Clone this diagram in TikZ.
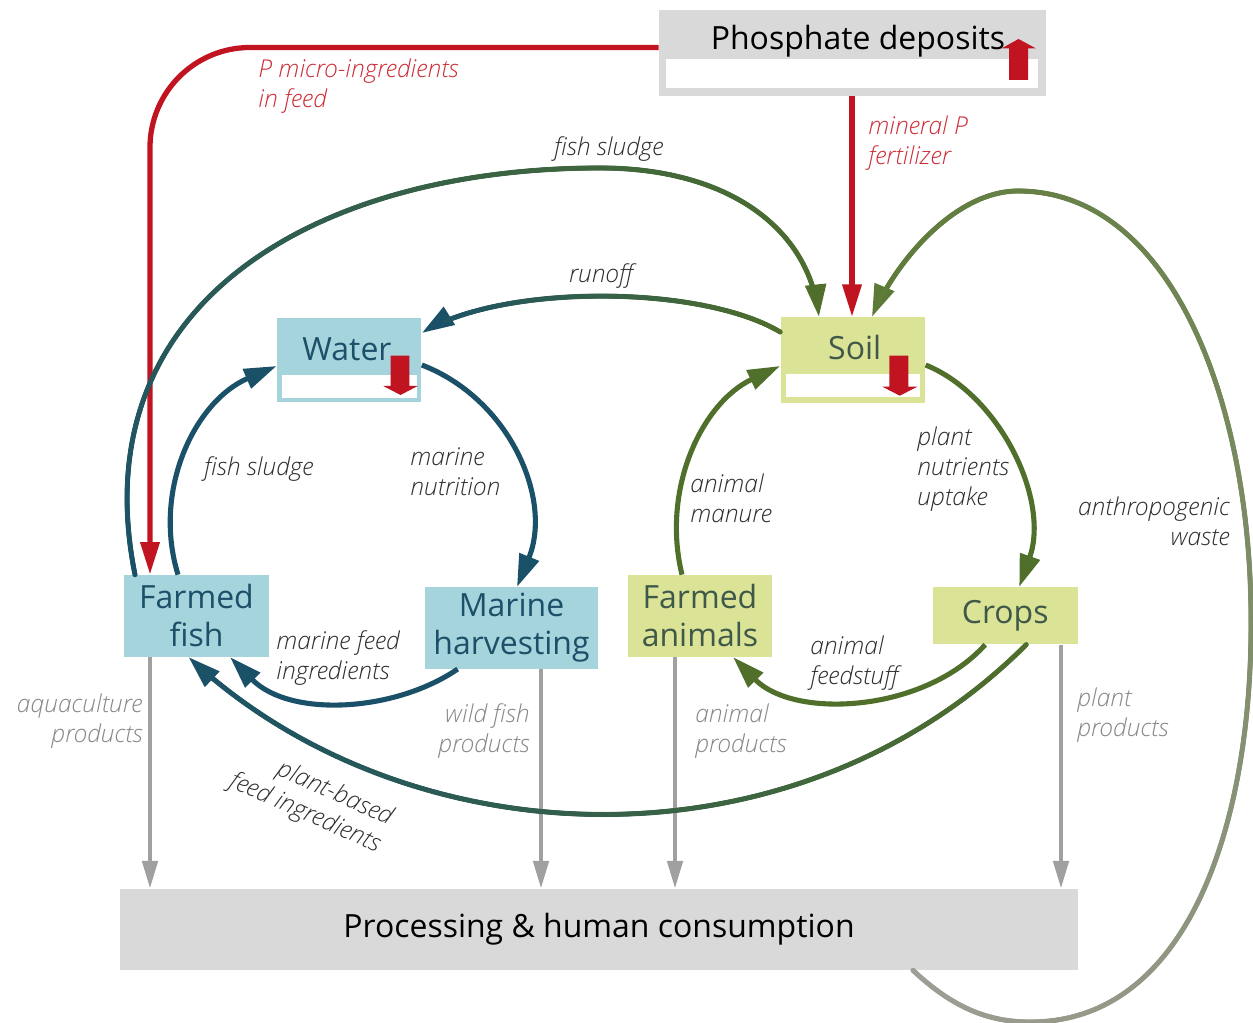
\documentclass[tikz,border=0pt]{standalone}
\usepackage{fontspec}
\setmainfont{Open Sans}
\IfFontExistsTF{Open Sans Light Italic}
  {\newfontfamily\labfamily{Open Sans Light Italic}}
  {\newcommand\labfamily{\itshape}}
\usetikzlibrary{arrows.meta,decorations.markings,calc}

\definecolor{cTeal}{RGB}{26,81,104}
\definecolor{cGreen}{RGB}{80,111,43}
\definecolor{cOlive}{RGB}{92,122,55}
\definecolor{cWaste}{RGB}{158,158,150}
\definecolor{cRed}{RGB}{192,21,33}
\definecolor{cRedTxt}{RGB}{205,45,55}
\definecolor{cLine}{RGB}{160,160,160}
\definecolor{cBlue}{RGB}{166,212,221}
\definecolor{cLime}{RGB}{219,227,150}
\definecolor{cGrayBox}{RGB}{217,217,217}
\definecolor{cBlueTxt}{RGB}{27,80,104}
\definecolor{cLimeTxt}{RGB}{62,88,74}
\definecolor{cLab}{RGB}{45,45,45}
\definecolor{cProd}{RGB}{135,135,135}

\tikzset{
  box/.style={rectangle, inner sep=0pt, align=center, font=\fontsize{18.2}{21.6}\selectfont},
  lab/.style={inner sep=0pt, text=cLab, font=\fontsize{14}{17}\selectfont\labfamily},
  prodlab/.style={lab, text=cProd},
  redlab/.style={lab, text=cRedTxt, align=left, anchor=west},
  conn/.style={line width=2.9pt, -{Triangle[length=18.5pt,width=11.5pt]}},
  prod/.style={draw=cLine, line width=2.8pt, -{Triangle[length=16pt,width=8.5pt]}},
  pline/.style={draw=cRed, line width=3pt, -{Triangle[length=18.5pt,width=10.5pt]}},
  % stroke whose colour runs from #1 at the start to #2 at the arrow tip:
  % the path itself only contributes its arrow tip, the stroke is laid as dots
  fade/.style 2 args={draw=#2, line width=2.9pt, line cap=butt,
    dash pattern=on 0pt off 3000pt, -{Triangle[length=18.5pt,width=11.5pt]},
    postaction={decorate},
    decoration={markings,
      mark=between positions 0 and -16pt step 0.6pt with {%
        \pgfmathsetmacro\gfr{100*(\pgfkeysvalueof{/pgf/decoration/mark info/distance from start}/\pgfdecoratedpathlength)}%
        \fill[#2!\gfr!#1] (0,0) circle (1.47pt);}}},
}

\begin{document}
\begin{tikzpicture}[x=0.02cm,y=-0.02cm]
\useasboundingbox (0,0) rectangle (1253,1023);

% vertical guides for the straight flows
\coordinate (xa) at (150,0);
\coordinate (xb) at (541,0);
\coordinate (xc) at (675,0);
\coordinate (xd) at (1061,0);
\coordinate (xm) at (852,0);
\coordinate (ry) at (0,47.5);

% ---------- boxes ----------
\node[box, fill=cGrayBox, minimum width=7.74cm, minimum height=1.72cm] (phos) at (852.5,53) {};
\fill[white] (666,59) rectangle (1038,88);
\node[box] (phostxt) at (858,41) {Phosphate deposits};
\fill[cRed] (1009,80) -- (1009,48.3) -- (1001.7,48.3) -- (1018.5,39) -- (1035.7,48.3) -- (1028,48.3) -- (1028,80) -- cycle;

\node[box, fill=cBlue, minimum width=2.89cm, minimum height=1.70cm] (water) at (349.25,360) {};
\fill[white] (282.3,375) rectangle (416.7,397.7);
\node[box, text=cBlueTxt] (watertxt) at (347,349) {Water};
\fill[cRed] (390.7,355.7) -- (409.3,355.7) -- (409.3,386) -- (417.7,386) -- (400.5,395) -- (383.3,386) -- (390.7,386) -- cycle;

\node[box, fill=cLime, minimum width=2.896cm, minimum height=1.708cm] (soil) at (852.9,360) {};
\fill[white] (785.7,374.3) rectangle (920,397.3);
\node[box, text=cLimeTxt] (soiltxt) at (854.7,348) {Soil};
\fill[cRed] (889.3,355.7) -- (908.3,355.7) -- (908.3,386.7) -- (917.3,386.7) -- (899.8,395.7) -- (882.3,386.7) -- (889.3,386.7) -- cycle;

\node[box, fill=cBlue, text=cBlueTxt, minimum width=2.888cm, minimum height=1.634cm] (ffish) at (196.5,615.85) {Farmed\\fish};
\node[box, fill=cBlue, text=cBlueTxt, minimum width=3.46cm, minimum height=1.628cm] (marine) at (511.5,628) {Marine\\harvesting};
\node[box, fill=cLime, text=cLimeTxt, minimum width=2.88cm, minimum height=1.634cm] (fanim) at (700,615.85) {Farmed\\animals};
\node[box, fill=cLime, text=cLimeTxt, minimum width=2.9cm, minimum height=1.14cm] (crops) at (1005.2,615.8) {Crops};
\node[box, fill=cGrayBox, minimum width=19.16cm, minimum height=1.614cm] (proc) at (599,929.65) {Processing \& human consumption};

% ---------- product flows ----------
\draw[prod] (ffish.south -| xa) -- (proc.north -| xa);
\draw[prod] (marine.south -| xb) -- (proc.north -| xb);
\draw[prod] (fanim.south -| xc) -- (proc.north -| xc);
\draw[prod] (crops.south -| xd) -- (proc.north -| xd);

% ---------- mineral phosphorus ----------
\draw[pline, rounded corners=2cm] (phos.west |- ry) -- (xa |- ry) -- (ffish.north -| xa);
\draw[pline] (phos.south -| xm) -- (soil.north -| xm);

% ---------- aquatic loop ----------
\draw[conn, draw=cTeal] ($(ffish.north)+(-18.5,0)$) .. controls (152,490) and (195,401) .. ($(water.west)+(0,6)$);
\draw[conn, draw=cTeal] ($(water.east)+(0,5)$) .. controls (509,398.5) and (553,498.6) .. ($(marine.north)+(5.5,0)$);
\draw[conn, draw=cTeal] ($(marine.south west)+(33,0)$) .. controls (395,712) and (290,718) .. ($(ffish.south)+(33.5,0)$);

% ---------- terrestrial loop ----------
\draw[conn, draw=cGreen] ($(fanim.north)+(-18,0)$) .. controls (661,489) and (702,402.7) .. ($(soil.west)+(0,6)$);
\draw[conn, draw=cGreen] ($(soil.east)+(0,5)$) .. controls (1000,395) and (1050,500) .. ($(crops.north)+(14,0)$);
\draw[conn, draw=cGreen] ($(crops.south)+(-20,0)$) .. controls (925,712) and (795,720) .. ($(fanim.south)+(33,0)$);

% ---------- flows between the loops ----------
\draw[fade={cTeal}{cGreen}] ($(ffish.north)+(-61.5,0)$) .. controls (80,300) and (320,168) .. (600,168) .. controls (730,168) and (810,230) .. ($(soil.north)+(-34,0)$);
\draw[fade={cGreen}{cTeal}] ($(soil.west)+(0,-28)$) .. controls (700,284) and (500,284) .. ($(water.east)+(0,-27)$);
\draw[fade={cGreen}{cTeal}] ($(crops.south)+(21,0)$) .. controls (795,876) and (407,862) .. ($(ffish.south)+(-8,0)$);
\draw[fade={cWaste}{cOlive}] ($(proc.south)+(314,0)$) .. controls (950,1005) and (985,1022) .. (1030,1022)
  .. controls (1190,1022) and (1252,820) .. (1251,620)
  .. controls (1251,400) and (1170,191) .. (1018,191)
  .. controls (955,191) and (895,262) .. ($(soil.north)+(19,0)$);

% ---------- labels ----------
\node[redlab] (lmicro) at (258,86) {P micro-ingredients\\in feed};
\node[redlab] (lmin) at (868,143) {mineral P\\fertilizer};
\node[lab] (lsludge1) at (609,149) {fish sludge};
\node[lab] (lrunoff) at (601,276) {runoff};
\node[lab] (lsludge2) at (259,469) {fish sludge};
\node[lab, align=left, anchor=west] (lmarnut) at (410,472) {marine\\nutrition};
\node[lab, align=left, anchor=west] (lmanure) at (690,498) {animal\\manure};
\node[lab, align=left, anchor=west] (luptake) at (917,469) {plant\\nutrients\\uptake};
\node[lab, align=right, anchor=east] (lwaste) at (1230,521) {anthropogenic\\waste};
\node[lab, align=left, anchor=west] (lmfeed) at (276,658) {marine feed\\ingredients};
\node[lab, align=left, anchor=west] (lafeed) at (810,663) {animal\\feedstuff};
\node[lab, align=right, rotate=-24] (lpfeed) at (311,800) {plant-based\\feed ingredients};
\node[prodlab, align=right, anchor=east] (paqua) at (143,721) {aquaculture\\products};
\node[prodlab, align=right, anchor=east] (pwild) at (530,731) {wild fish\\products};
\node[prodlab, align=left, anchor=west] (panim) at (695,731) {animal\\products};
\node[prodlab, align=left, anchor=west] (pplant) at (1077,715) {plant\\products};
\end{tikzpicture}
\end{document}
